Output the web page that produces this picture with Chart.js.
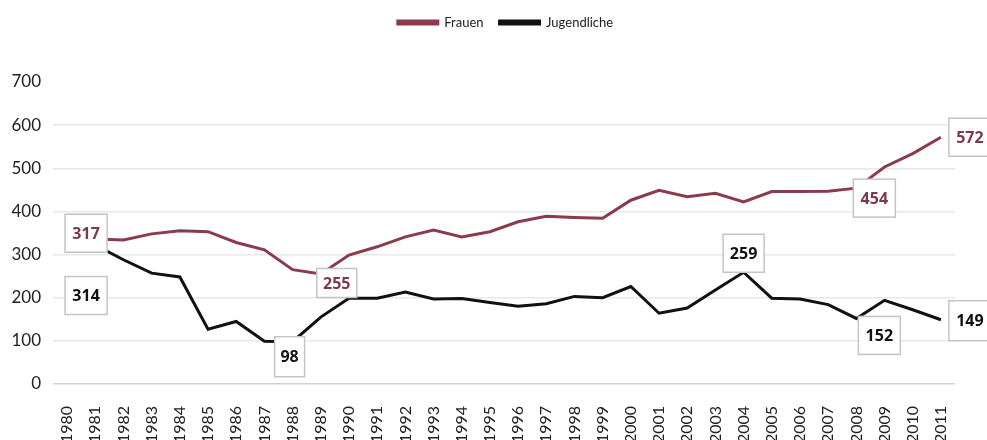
<!DOCTYPE html>
<html><head><meta charset="utf-8">
<script src="https://cdn.jsdelivr.net/npm/chart.js@4"></script>
<style>html,body{margin:0;padding:0;background:#fff}#wrap{width:987px;height:440px;position:relative}</style>
</head><body><div id="wrap"><canvas id="c"></canvas></div>
<script>
const years = ['1980','1981','1982','1983','1984','1985','1986','1987','1988','1989','1990','1991','1992','1993','1994','1995','1996','1997','1998','1999','2000','2001','2002','2003','2004','2005','2006','2007','2008','2009','2010','2011'];
const frauen = [317,336,334,348,355,353,328,311,265,255,299,318,341,357,341,353,376,389,386,384,426,449,434,442,422,446,446,447,454,503,534,572];
const jugendliche = [314,322,288,257,248,127,145,99,98,155,199,199,213,197,198,189,180,186,203,200,226,164,176,218,259,199,197,184,152,194,172,149];
const yTicks = [0,100,200,300,400,500,600,700];
const frauenLabelIdx = [0,9,28,31];
const jugendLabelIdx = [0,8,24,28,31];

const FR = '#8c3b4d';
const JU = '#111111';
// label box styles (offsets from point, box size)
const frauenLabelStyle = [{dx:19,dy:-14,w:42,h:38},{dx:16,dy:9,w:40,h:29},{dx:18,dy:10,w:42,h:38},{dx:29,dy:0,w:42,h:38}];
const jugendLabelStyle = [{dx:19,dy:47,w:42,h:38},{dx:-3,dy:15,w:30,h:40},{dx:0,dy:-19,w:41,h:38},{dx:23,dy:17,w:42,h:38},{dx:29,dy:1,w:42,h:40}];

const valueLabels = {
  id:'valueLabels',
  afterDatasetsDraw(chart){
    const ctx = chart.ctx;
    const sets = [[0,frauenLabelIdx,frauenLabelStyle,'#7d3a4c'],[1,jugendLabelIdx,jugendLabelStyle,'#111']];
    ctx.save();
    sets.forEach(([di,idxs,styles,col])=>{
      const meta = chart.getDatasetMeta(di);
      const data = chart.data.datasets[di].data;
      idxs.forEach((i,k)=>{
        const pt = meta.data[i];
        const s = styles[k];
        const cx = pt.x + s.dx, cy = pt.y + s.dy;
        ctx.fillStyle = '#fff';
        ctx.strokeStyle = '#c4c4c4';
        ctx.lineWidth = 1.5;
        ctx.fillRect(cx - s.w/2, cy - s.h/2, s.w, s.h);
        ctx.strokeRect(cx - s.w/2, cy - s.h/2, s.w, s.h);
        ctx.fillStyle = col;
        ctx.font = 'bold 16px "Open Sans"';
        ctx.textAlign = 'center';
        ctx.textBaseline = 'middle';
        ctx.fillText(String(data[i]), cx, cy + 1);
      });
    });
    ctx.restore();
  }
};

const legendTweak = {
  id:'legendTweak',
  afterInit(chart){
    const lg = chart.legend;
    const orig = lg.fit;
    lg.fit = function(){ orig.call(this); this.height = 82; };
  },
  afterLayout(chart){
    chart.legend.left += 28; chart.legend.right += 28;
  }
};

new Chart(document.getElementById('c'), {
  type:'line',
  data:{
    labels: years,
    datasets:[
      {label:'Frauen', data: frauen, borderColor: FR, backgroundColor: FR, borderWidth:3, pointRadius:0, tension:0,
       segment:{borderColor: c => c.p0DataIndex===0 ? 'rgba(0,0,0,0)' : undefined}},
      {label:'Jugendliche', data: jugendliche, borderColor: JU, backgroundColor: JU, borderWidth:3, pointRadius:0, tension:0,
       segment:{borderColor: c => c.p0DataIndex===0 ? 'rgba(0,0,0,0)' : undefined}}
    ]
  },
  options:{
    responsive:true, maintainAspectRatio:false, animation:false,
    layout:{padding:{left:0,right:32,top:0,bottom:0}},
    plugins:{
      legend:{position:'top', align:'center',
        labels:{boxWidth:40, boxHeight:3, padding:16, color:'#222', font:{family:'Lato', size:13}}},
      tooltip:{enabled:false}
    },
    scales:{
      x:{offset:true, grid:{display:false}, border:{display:false},
        ticks:{minRotation:90, maxRotation:90, autoSkip:false, color:'#222', padding:14, font:{family:'Lato', size:16}},
        afterFit: s => { s.height = 56; }},
      y:{min:0, max:700, border:{display:false},
        afterBuildTicks: s => { s.ticks = yTicks.map(v=>({value:v})); },
        grid:{drawTicks:false, lineWidth:1.5, borderDash:[10,3],
          color: c => c.tick.value===700 ? 'rgba(0,0,0,0)' : (c.tick.value===0 ? '#d2d2d2' : '#e8e8e8')},
        ticks:{color:'#222', padding:12, font:{family:'Lato', size:17}},
        afterFit: s => { s.width = 53; }}
    }
  },
  plugins:[valueLabels, legendTweak]
});
</script></body></html>
